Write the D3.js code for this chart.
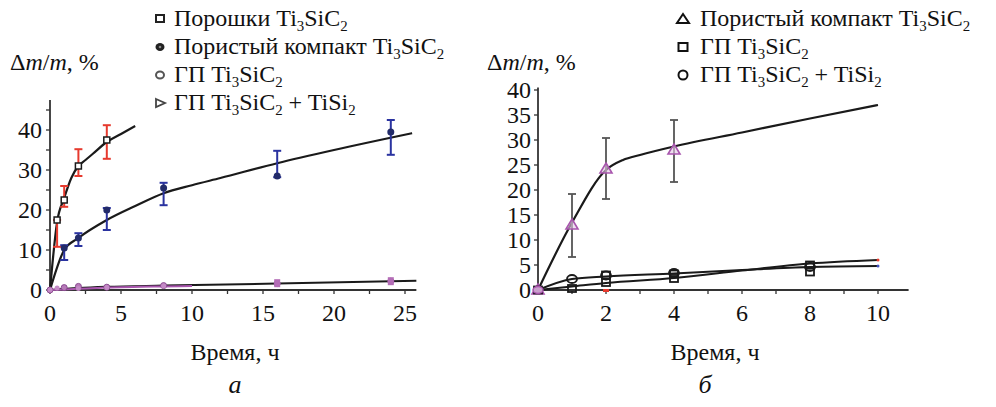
<!DOCTYPE html>
<html><head><meta charset="utf-8">
<script src="https://cdn.jsdelivr.net/npm/d3@7"></script>
<style>
html,body{margin:0;padding:0;background:#fff;}
</style></head>
<body><svg id="c" width="996" height="407"></svg>
<script>
// ---------- DATA: panel a ----------
const aTicksX = [0,5,10,15,20,25];
const aTicksY = [0,10,20,30,40];
// Порошки Ti3SiC2
const aPowderX  = [0.5, 1, 2, 4];
const aPowderY  = [17.5, 22.5, 31, 37.5];
const aPowderLo = [10.8, 20.8, 28.5, 32.8];
const aPowderHi = [17.5, 26, 35.2, 41.2];
const aPowderTrendX = [0, 0.5, 1, 1.5, 2, 2.5, 3, 4, 5, 6];
const aPowderTrendY = [0, 17, 23, 28, 31, 32.5, 34, 37, 39, 41];
// Пористый компакт Ti3SiC2
const aPorousX  = [1, 2, 4, 8, 16, 24];
const aPorousY  = [10.5, 13, 20, 25.5, 28.5, 39.5];
const aPorousLo = [7.5, 11, 15, 21.2, 28.2, 33.8];
const aPorousHi = [11.2, 14.2, 20.5, 26.8, 34.8, 42.5];
const aPorousTrendX = [0, 1, 2, 4, 6, 8, 10, 12, 16, 20, 25.5];
const aPorousTrendY = [0, 10, 13, 17.5, 21, 24.2, 26.2, 28, 31.7, 35, 39.2];
// ГП Ti3SiC2
const aGPX = [0, 1, 2, 4, 8, 16, 24];
const aGPY = [0, 0.6, 0.9, 0.7, 1.1, 1.6, 2.2];
const aGPTrendX = [0, 2, 4, 8, 16, 25.8];
const aGPTrendY = [0, 0.5, 0.8, 1.1, 1.6, 2.3];
// ГП Ti3SiC2 + TiSi2
const aGPTX = [0, 0.5, 2, 4, 8];
const aGPTY = [0, 0.5, 0.4, 0.6, 1.0];
const aGPTTrendX = [0, 2, 4, 8, 10];
const aGPTTrendY = [0, 0.3, 0.6, 0.9, 1.0];

// ---------- DATA: panel б ----------
const bTicksX = [0,2,4,6,8,10];
const bTicksY = [0,5,10,15,20,25,30,35,40];
// Пористый компакт Ti3SiC2
const bPorousX  = [0, 1, 2, 4];
const bPorousY  = [0, 13, 24.2, 28];
const bPorousLo = [0, 6.6, 18.2, 21.6];
const bPorousHi = [0, 19.2, 30.4, 34];
const bPorousTrendX = [0, 1, 2, 2.5, 3, 4, 6, 8, 10];
const bPorousTrendY = [0, 13.5, 24, 26, 27, 28.7, 31.5, 34.3, 37];
// ГП Ti3SiC2
const bGPX = [0, 1, 2, 2, 4, 4, 8, 8];
const bGPY = [0, 0.3, 1.5, 3.0, 2.3, 3.2, 3.6, 5.0];
const bGPTrendX = [0, 1, 2, 4, 6, 8, 10];
const bGPTrendY = [0, 0.7, 1.4, 2.4, 3.9, 5.3, 6.0];
// ГП Ti3SiC2 + TiSi2
const bGPTX = [1, 2, 4, 8];
const bGPTY = [2.2, 2.9, 3.4, 4.6];
const bGPTTrendX = [0, 1, 2, 4, 6, 8, 10];
const bGPTTrendY = [0, 2.2, 2.7, 3.3, 4.0, 4.6, 4.8];

// ---------- helpers ----------
const FONT = '"Liberation Serif"';
const svg = d3.select("#c");
const RED = "#e63a2e", BLUE = "#2a33a0", PURP = "#a855ad", DARK = "#1a1a1a";

function rich(g, x, y, parts, size, anchor) {
  const t = g.append("text").attr("x", x).attr("y", y).attr("font-size", size)
    .attr("font-family", FONT).attr("fill", "#111")
    .attr("text-anchor", anchor || "start");
  let prevSub = false;
  parts.forEach(p => {
    const s = t.append("tspan").text(p[0]);
    const sub = p[1] === 1;
    if (sub && !prevSub) s.attr("font-size", size * 0.62).attr("dy", size * 0.22);
    else if (sub) s.attr("font-size", size * 0.62);
    else if (prevSub) s.attr("dy", -size * 0.22);
    if (p[2]) s.attr("font-style", "italic");
    prevSub = sub;
  });
  return t;
}
function label(g, x, y, txt, size, anchor) {
  return g.append("text").attr("x", x).attr("y", y).attr("font-size", size)
    .attr("font-family", FONT).attr("fill", "#111").attr("text-anchor", anchor).text(txt);
}
const zip = (xs, ys) => xs.map((x, i) => [x, ys[i]]);

function errorBars(g, x, y, xs, lo, hi, color, w) {
  xs.forEach((xv, i) => {
    if (hi[i] - lo[i] <= 0) return;
    const px = x(xv);
    g.append("line").attr("x1", px).attr("x2", px).attr("y1", y(lo[i])).attr("y2", y(hi[i]))
      .attr("stroke", color).attr("stroke-width", w);
    [lo[i], hi[i]].forEach(v => g.append("line").attr("x1", px - 4).attr("x2", px + 4)
      .attr("y1", y(v)).attr("y2", y(v)).attr("stroke", color).attr("stroke-width", w));
  });
}
function trend(g, x, y, xs, ys, color, w) {
  g.append("path").datum(zip(xs, ys))
    .attr("d", d3.line().x(d => x(d[0])).y(d => y(d[1])).curve(d3.curveMonotoneX))
    .attr("fill", "none").attr("stroke", color).attr("stroke-width", w || 2.2);
}

// ================= PANEL а =================
const xA = d3.scaleLinear().domain([0, 25]).range([50, 405]);
const yA = d3.scaleLinear().domain([0, 40]).range([290, 130]);
const gA = svg.append("g");

gA.append("line").attr("x1", xA(0)).attr("x2", xA(25.8)).attr("y1", yA(0)).attr("y2", yA(0))
  .attr("stroke", "#333").attr("stroke-width", 1.8);
gA.append("line").attr("x1", xA(0)).attr("x2", xA(0)).attr("y1", yA(0)).attr("y2", yA(47.5))
  .attr("stroke", "#333").attr("stroke-width", 1.8);
d3.range(0, 26, 2.5).forEach(v => gA.append("line").attr("x1", xA(v)).attr("x2", xA(v))
  .attr("y1", yA(0)).attr("y2", yA(0) + 4).attr("stroke", "#333").attr("stroke-width", 1.3));
d3.range(0, 46, 5).forEach(v => gA.append("line").attr("x1", xA(0) - 4).attr("x2", xA(0))
  .attr("y1", yA(v)).attr("y2", yA(v)).attr("stroke", "#333").attr("stroke-width", 1.3));
aTicksX.forEach(v => label(gA, xA(v), 321, v, 24, "middle"));
aTicksY.forEach(v => label(gA, 42, yA(v) + 8, v, 24, "end"));

trend(gA, xA, yA, aGPTrendX, aGPTrendY, DARK, 2);
trend(gA, xA, yA, aGPTTrendX, aGPTTrendY, PURP, 2);
trend(gA, xA, yA, aPorousTrendX, aPorousTrendY, DARK, 2.2);
trend(gA, xA, yA, aPowderTrendX, aPowderTrendY, DARK, 2.2);

errorBars(gA, xA, yA, aPowderX, aPowderLo, aPowderHi, RED, 2);
errorBars(gA, xA, yA, aPorousX, aPorousLo, aPorousHi, BLUE, 2);

aPowderX.forEach((v, i) => gA.append("rect").attr("x", xA(v) - 3).attr("y", yA(aPowderY[i]) - 3)
  .attr("width", 6).attr("height", 6).attr("fill", "#fff").attr("stroke", DARK).attr("stroke-width", 1.5));
aPorousX.forEach((v, i) => gA.append("circle").attr("cx", xA(v)).attr("cy", yA(aPorousY[i]))
  .attr("r", 3.5).attr("fill", "#222b6a"));
aGPX.forEach((v, i) => gA.append("circle").attr("cx", xA(v)).attr("cy", yA(aGPY[i]))
  .attr("r", 3).attr("fill", "#b77ab9").attr("stroke", "#8a4b90").attr("stroke-width", 1));
aGPTX.forEach((v, i) => gA.append("circle").attr("cx", xA(v)).attr("cy", yA(aGPTY[i]))
  .attr("r", 2.5).attr("fill", "#c48ac6"));
[16, 24].forEach((v, k) => gA.append("rect").attr("x", xA(v) - 3).attr("y", yA([1.7, 2.2][k]) - 4)
  .attr("width", 6).attr("height", 8).attr("fill", "#b36cb6"));

rich(gA, 10, 70, [["Δ", 0], ["m", 0, 1], ["/", 0], ["m", 0, 1], [", %", 0]], 24);
rich(gA, 235, 360, [["Время, ч", 0]], 24, "middle");
rich(gA, 235, 393, [["а", 0, 1]], 26, "middle");

const legA = [
  [[["Порошки Ti", 0], ["3", 1], ["SiC", 0], ["2", 1]], "sq"],
  [[["Пористый компакт Ti", 0], ["3", 1], ["SiC", 0], ["2", 1]], "dot"],
  [[["ГП Ti", 0], ["3", 1], ["SiC", 0], ["2", 1]], "dia"],
  [[["ГП Ti", 0], ["3", 1], ["SiC", 0], ["2", 1], [" + TiSi", 0], ["2", 1]], "tri"]
];
legA.forEach((L, i) => {
  const cy = 18 + i * 28;
  const mx = 160;
  if (L[1] === "sq") gA.append("rect").attr("x", mx - 4).attr("y", cy - 3).attr("width", 8).attr("height", 7)
    .attr("fill", "#fff").attr("stroke", "#222").attr("stroke-width", 2);
  if (L[1] === "dot") { gA.append("ellipse").attr("cx", mx).attr("cy", cy + 1).attr("rx", 4.5).attr("ry", 4)
    .attr("fill", "#222"); gA.append("circle").attr("cx", mx).attr("cy", cy + 1).attr("r", 1.3).attr("fill", "#888"); }
  if (L[1] === "dia") gA.append("ellipse").attr("cx", mx).attr("cy", cy + 1).attr("rx", 4).attr("ry", 3.5)
    .attr("fill", "#fff").attr("stroke", "#555").attr("stroke-width", 2);
  if (L[1] === "tri") gA.append("path").attr("d", `M${mx-4},${cy-3}L${mx+5},${cy+1}L${mx-4},${cy+5}Z`)
    .attr("fill", "#fff").attr("stroke", "#444").attr("stroke-width", 1.8);
  rich(gA, 174, cy + 8, L[0], 24);
});

// ================= PANEL б =================
const xB = d3.scaleLinear().domain([0, 10]).range([538, 878]);
const yB = d3.scaleLinear().domain([0, 40]).range([290, 90]);
const gB = svg.append("g");

gB.append("line").attr("x1", xB(0)).attr("x2", xB(10.9)).attr("y1", yB(0)).attr("y2", yB(0))
  .attr("stroke", "#333").attr("stroke-width", 1.8);
gB.append("line").attr("x1", xB(0)).attr("x2", xB(0)).attr("y1", yB(0)).attr("y2", yB(40.5))
  .attr("stroke", "#333").attr("stroke-width", 1.8);
d3.range(0, 11, 1).forEach(v => gB.append("line").attr("x1", xB(v)).attr("x2", xB(v))
  .attr("y1", yB(0)).attr("y2", yB(0) + 4).attr("stroke", "#333").attr("stroke-width", 1.3));
bTicksY.forEach(v => gB.append("line").attr("x1", xB(0) - 4).attr("x2", xB(0))
  .attr("y1", yB(v)).attr("y2", yB(v)).attr("stroke", "#333").attr("stroke-width", 1.3));
bTicksX.forEach(v => label(gB, xB(v), 321, v, 24, "middle"));
bTicksY.forEach(v => label(gB, 531, yB(v) + 8, v, 24, "end"));

trend(gB, xB, yB, bGPTrendX, bGPTrendY, DARK, 2);
trend(gB, xB, yB, bGPTTrendX, bGPTTrendY, DARK, 2);
trend(gB, xB, yB, bPorousTrendX, bPorousTrendY, DARK, 2.2);
gB.append("circle").attr("cx", xB(10)).attr("cy", yB(6)).attr("r", 1.5).attr("fill", RED);
gB.append("circle").attr("cx", xB(10)).attr("cy", yB(4.8)).attr("r", 1.5).attr("fill", "#4050c0");

errorBars(gB, xB, yB, bPorousX, bPorousLo, bPorousHi, "#555", 1.8);
bPorousX.forEach((v, i) => {
  const px = xB(v), py = yB(bPorousY[i]);
  gB.append("path").attr("d", `M${px},${py-6}L${px+6},${py+4}L${px-6},${py+4}Z`)
    .attr("fill", "#e4c8e6").attr("fill-opacity", 0.6).attr("stroke", PURP).attr("stroke-width", 1.6);
});
bGPX.forEach((v, i) => gB.append("rect").attr("x", xB(v) - 4).attr("y", yB(bGPY[i]) - 3.5)
  .attr("width", 8).attr("height", 7).attr("fill", "none").attr("stroke", DARK).attr("stroke-width", 1.8));
bGPTX.forEach((v, i) => gB.append("ellipse").attr("cx", xB(v)).attr("cy", yB(bGPTY[i]))
  .attr("rx", 5).attr("ry", 4).attr("fill", "none").attr("stroke", DARK).attr("stroke-width", 1.8));
gB.append("ellipse").attr("cx", xB(0)).attr("cy", yB(0)).attr("rx", 5).attr("ry", 3.5)
  .attr("fill", "#c9a0cc").attr("stroke", PURP).attr("stroke-width", 1.5);
gB.append("rect").attr("x", xB(2) - 3).attr("y", yB(0) - 1).attr("width", 6).attr("height", 3).attr("fill", RED);

rich(gB, 487, 70, [["Δ", 0], ["m", 0, 1], ["/", 0], ["m", 0, 1], [", %", 0]], 24);
rich(gB, 715, 360, [["Время, ч", 0]], 24, "middle");
rich(gB, 705, 393, [["б", 0, 1]], 26, "middle");

const legB = [
  [[["Пористый компакт Ti", 0], ["3", 1], ["SiC", 0], ["2", 1]], "tri"],
  [[["ГП Ti", 0], ["3", 1], ["SiC", 0], ["2", 1]], "sq"],
  [[["ГП Ti", 0], ["3", 1], ["SiC", 0], ["2", 1], [" + TiSi", 0], ["2", 1]], "circ"]
];
legB.forEach((L, i) => {
  const cy = 18 + i * 28;
  const mx = 683;
  if (L[1] === "tri") gB.append("path").attr("d", `M${mx},${cy-4}L${mx+6},${cy+5}L${mx-6},${cy+5}Z`)
    .attr("fill", "none").attr("stroke", "#111").attr("stroke-width", 2);
  if (L[1] === "sq") gB.append("rect").attr("x", mx - 4.5).attr("y", cy - 3).attr("width", 9).attr("height", 8)
    .attr("fill", "none").attr("stroke", "#111").attr("stroke-width", 2);
  if (L[1] === "circ") gB.append("circle").attr("cx", mx).attr("cy", cy + 1).attr("r", 4.5)
    .attr("fill", "none").attr("stroke", "#111").attr("stroke-width", 2);
  rich(gB, 700, cy + 8, L[0], 24);
});
</script></body></html>
